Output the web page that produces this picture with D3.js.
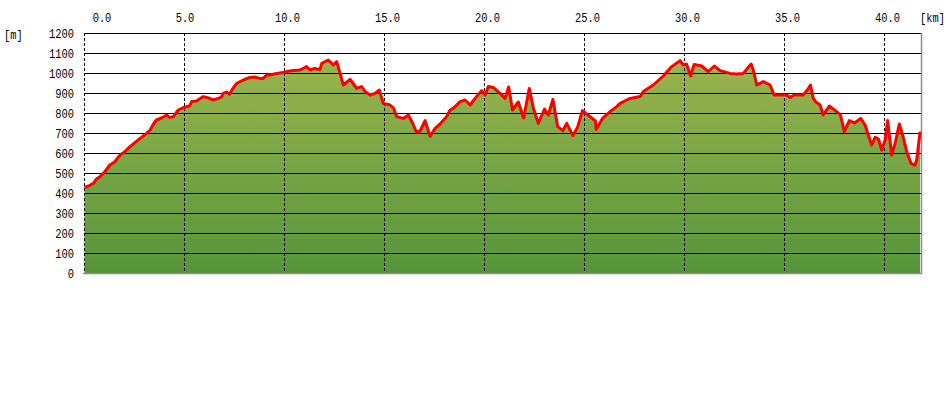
<!DOCTYPE html>
<html>
<head>
<meta charset="utf-8">
<script src="https://cdn.jsdelivr.net/npm/d3@7"></script>
<style>
  body { margin: 0; background: #fff; }
  text { font-family: "Liberation Mono", "DejaVu Sans Mono", monospace; font-size: 13px; fill: #000; }
</style>
</head>
<body>
<svg width="948" height="399"></svg>
<script>
// distance along the course [km]
var km = [0.0, 0.2, 0.44, 0.6, 0.78, 1.0, 1.27, 1.5, 1.78, 2.0, 2.27, 2.5, 2.78, 3.0, 3.28, 3.45, 3.6, 3.85, 4.1, 4.25,
  4.44, 4.69, 4.9, 5.11, 5.25, 5.36, 5.6, 5.94, 6.2, 6.44, 6.69, 6.85, 6.94, 7.1, 7.25, 7.4, 7.61, 7.94, 8.27, 8.5,
  8.78, 8.94, 9.1, 9.28, 9.6, 9.94, 10.1, 10.44, 10.78, 11.1, 11.28, 11.5, 11.78, 11.86, 12.19, 12.44, 12.61, 12.78, 12.94, 13.28,
  13.45, 13.61, 13.86, 14.05, 14.28, 14.53, 14.74, 14.94, 15.28, 15.45, 15.61, 15.94, 16.19, 16.4, 16.6, 16.78, 17.03, 17.28, 17.53, 17.78,
  18.11, 18.28, 18.44, 18.78, 19.03, 19.28, 19.53, 19.86, 20.03, 20.19, 20.44, 20.78, 21.03, 21.21, 21.4, 21.69, 21.96, 22.24, 22.44, 22.69,
  23.0, 23.19, 23.42, 23.66, 23.92, 24.11, 24.42, 24.65, 24.9, 25.55, 25.58, 25.9, 26.28, 26.61, 26.78, 27.28, 27.78, 27.94, 28.44, 28.94,
  29.36, 29.78, 29.94, 30.1, 30.31, 30.48, 30.86, 31.19, 31.49, 31.78, 32.28, 32.6, 32.94, 33.33, 33.44, 33.61, 33.94, 34.28, 34.48, 35.11,
  35.28, 35.5, 35.94, 36.14, 36.3, 36.44, 36.55, 36.78, 36.94, 37.24, 37.61, 37.8, 37.99, 38.24, 38.5, 38.81, 39.03, 39.19, 39.36, 39.53,
  39.7, 39.86, 40.03, 40.16, 40.36, 40.53, 40.74, 40.91, 41.11, 41.33, 41.53, 41.61, 41.78];

// elevation [m]
var elev = [428, 435, 448, 470, 482, 505, 540, 555, 590, 605, 632, 650, 673, 690, 715, 745, 765, 775, 790, 778,
  782, 815, 825, 832, 835, 857, 860, 882, 875, 865, 873, 880, 898, 905, 893, 920, 948, 965, 978, 980,
  973, 973, 990, 990, 998, 1002, 1007, 1012, 1015, 1032, 1015, 1023, 1018, 1048, 1065, 1040, 1057, 998, 940, 968,
  945, 923, 932, 905, 890, 898, 915, 848, 840, 825, 782, 773, 790, 750, 705, 710, 762, 683, 723, 745,
  782, 815, 823, 857, 865, 840, 873, 912, 890, 932, 928, 898, 873, 930, 815, 855, 775, 923, 825, 748,
  820, 790, 868, 732, 712, 748, 688, 728, 812, 760, 718, 773, 807, 832, 848, 873, 882, 907, 940, 985,
  1032, 1062, 1040, 1045, 985, 1043, 1035, 1007, 1035, 1012, 998, 995, 998, 1045, 1015, 940, 957, 940, 890, 890,
  878, 890, 890, 915, 940, 873, 857, 840, 790, 835, 807, 790, 707, 762, 750, 773, 740, 690, 640, 678,
  670, 615, 665, 762, 590, 648, 745, 690, 607, 548, 540, 565, 707];

var xTicks = [0, 5, 10, 15, 20, 25, 30, 35, 40];
var xLabels = ['0.0', '5.0', '10.0', '15.0', '20.0', '25.0', '30.0', '35.0', '40.0'];
var yTicks = [0, 100, 200, 300, 400, 500, 600, 700, 800, 900, 1000, 1100, 1200];

var data = km.map(function(k, i) { return { k: k, e: elev[i] }; });

var svg = d3.select('svg');

var x = d3.scaleLinear().domain([0, 41.8]).range([84.5, 920.5]);
var y = d3.scaleLinear().domain([0, 1200]).range([273, 33]);

// vertical gradient for the ground
var grad = svg.append('defs').append('linearGradient')
  .attr('id', 'ground')
  .attr('gradientUnits', 'userSpaceOnUse')
  .attr('x1', 0).attr('x2', 0)
  .attr('y1', y(0)).attr('y2', y(1100));
grad.append('stop').attr('offset', 0).attr('stop-color', '#56953a');
grad.append('stop').attr('offset', 1).attr('stop-color', '#9db54f');

var area = d3.area()
  .x(function(d) { return x(d.k); })
  .y0(y(0))
  .y1(function(d) { return y(d.e); });

svg.append('path')
  .datum(data)
  .attr('d', area)
  .attr('fill', 'url(#ground)');

// horizontal grid (drawn over the fill)
svg.append('g').selectAll('line')
  .data(yTicks.filter(function(v) { return v > 0; }))
  .join('line')
  .attr('x1', x(0)).attr('x2', x(41.8))
  .attr('y1', function(d) { return y(d) + 0.5; })
  .attr('y2', function(d) { return y(d) + 0.5; })
  .attr('stroke', '#000')
  .attr('shape-rendering', 'crispEdges');

// dashed km lines
svg.append('g').selectAll('line')
  .data(xTicks)
  .join('line')
  .attr('x1', function(d) { return x(d); })
  .attr('x2', function(d) { return x(d); })
  .attr('y1', y(1200)).attr('y2', y(0))
  .attr('stroke', '#000')
  .attr('stroke-dasharray', '3,2')
  .attr('shape-rendering', 'crispEdges');

// grey frame bits: bottom axis and right edge
svg.append('line')
  .attr('x1', 83).attr('x2', 922)
  .attr('y1', y(0) + 0.5).attr('y2', y(0) + 0.5)
  .attr('stroke', '#8c8c8c').attr('stroke-width', 1.5);
svg.append('line')
  .attr('x1', 921.5).attr('x2', 921.5)
  .attr('y1', y(1200)).attr('y2', y(0))
  .attr('stroke', '#8c8c8c').attr('stroke-width', 1.5);

// elevation profile
var line = d3.line()
  .x(function(d) { return x(d.k); })
  .y(function(d) { return y(d.e); });

svg.append('path')
  .datum(data)
  .attr('d', line)
  .attr('fill', 'none')
  .attr('stroke', '#ff0000')
  .attr('stroke-width', 3)
  .attr('stroke-linejoin', 'round');

// y labels
svg.append('g').selectAll('text')
  .data(yTicks)
  .join('text')
  .attr('transform', function(d) { return 'translate(74,' + (y(d) + 5) + ') scale(0.8,1)'; })
  .attr('text-anchor', 'end')
  .text(function(d) { return d; });

// x labels along the top
svg.append('g').selectAll('text')
  .data(xTicks)
  .join('text')
  .attr('transform', function(d, i) {
    var cx = i === 0 ? 102 : (i === 1 ? 185 : x(d) + 3);
    return 'translate(' + cx + ',22) scale(0.8,1)';
  })
  .attr('text-anchor', 'middle')
  .text(function(d, i) { return xLabels[i]; });

// units
svg.append('text')
  .attr('transform', 'translate(4,39) scale(0.8,1)')
  .text('[m]');
svg.append('text')
  .attr('transform', 'translate(920,22) scale(0.8,1)')
  .text('[km]');
</script>
</body>
</html>
